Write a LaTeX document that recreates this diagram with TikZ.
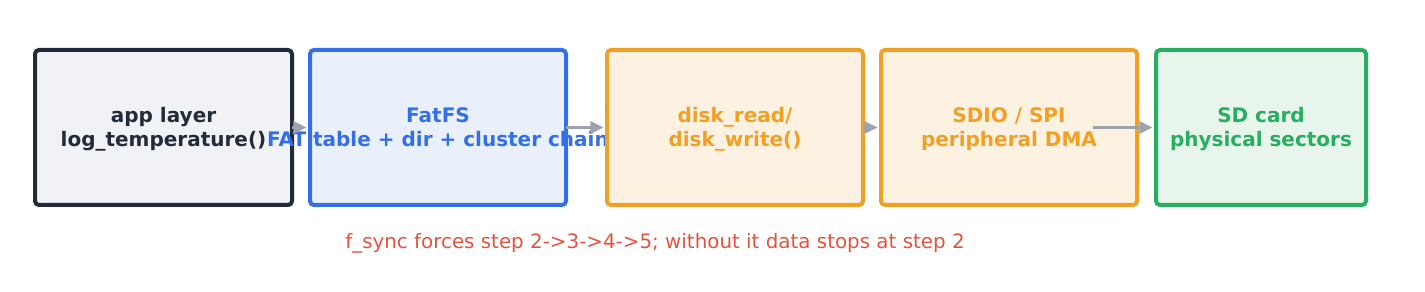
\documentclass[tikz,border=0pt]{standalone}
\usepackage{fontspec}
\setmainfont{DejaVu Sans}
\usetikzlibrary{arrows.meta}
\definecolor{darkst}{HTML}{222B38}
\definecolor{darkfl}{HTML}{F1F2F6}
\definecolor{bluest}{HTML}{3370E8}
\definecolor{bluefl}{HTML}{E9F0FC}
\definecolor{orgst}{HTML}{F2A024}
\definecolor{orgfl}{HTML}{FDF2E1}
\definecolor{grnst}{HTML}{27AE60}
\definecolor{grnfl}{HTML}{E8F5EC}
\definecolor{arrgray}{HTML}{9CA3AF}
\definecolor{notered}{HTML}{E2533F}
\tikzset{
  box/.style={draw, line width=3pt, rounded corners=3pt, minimum height=155*0.75pt,
    align=center, inner sep=0pt, text height=33.6pt, text depth=5.4pt,
    font=\fontsize{15}{18}\selectfont\bfseries},
  flow/.style={draw=arrgray, line width=2.4pt, -{Triangle[length=10pt,width=9pt]}}
}
\begin{document}
\begin{tikzpicture}[x=0.75pt,y=-0.75pt]
\useasboundingbox (0,0) rectangle (1425,292);
\node[box, draw=darkst, fill=darkfl, text=darkst, minimum width=257*0.75pt] (b1) at (163.5,127.5) {\strut app layer\\\strut log\_temperature()};
\node[box, draw=bluest, fill=bluefl, text=bluest, minimum width=256*0.75pt] (b2) at (438,127.5) {\strut FatFS\\\strut\makebox[0pt]{FAT table + dir + cluster chain}};
\node[box, draw=orgst, fill=orgfl, text=orgst, minimum width=256*0.75pt] (b3) at (735,127.5) {\strut disk\_read/\\\strut disk\_write()};
\node[box, draw=orgst, fill=orgfl, text=orgst, minimum width=256*0.75pt] (b4) at (1009,127.5) {\strut SDIO / SPI\\\strut peripheral DMA};
\node[box, draw=grnst, fill=grnfl, text=grnst, minimum width=210*0.75pt] (b5) at (1261,127.5) {\strut SD card\\\strut physical sectors};
\coordinate (s1) at (292,127.5);
\coordinate (s2) at (566,127.5);
\coordinate (s3) at (864,127.5);
\coordinate (s4) at (1093,127.5);
\draw[flow] (s1) -- ([xshift=-1pt]b2.west);
\draw[flow] (s2) -- ([xshift=-1pt]b3.west);
\draw[flow] (s3) -- ([xshift=-1pt]b4.west);
\draw[flow] (s4) -- ([xshift=-1pt]b5.west);
\node[text=notered, font=\fontsize{14.9}{17}\selectfont] (note) at (655,243) {f\_sync forces step 2->3->4->5; without it data stops at step 2};
\end{tikzpicture}
\end{document}
